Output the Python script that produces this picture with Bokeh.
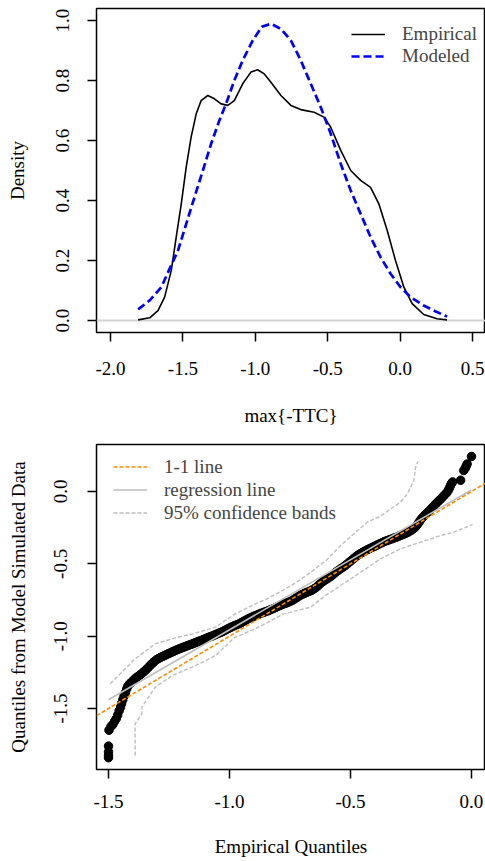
from bokeh.plotting import figure
from bokeh.models import Range1d, FixedTicker, PrintfTickFormatter, Legend, LegendItem
from bokeh.layouts import column
from bokeh.embed import file_html
from bokeh.resources import INLINE

FONT = "Liberation Serif"

# ---------------- top panel data: densities of max{-TTC} ----------------
emp_x = [-1.809, -1.729, -1.672, -1.626, -1.580, -1.546, -1.511, -1.477, -1.443, -1.408,
         -1.374, -1.328, -1.282, -1.236, -1.190, -1.145, -1.087, -1.030, -0.984, -0.938,
         -0.892, -0.823, -0.754, -0.686, -0.594, -0.525, -0.479, -0.410, -0.341, -0.273,
         -0.204, -0.147, -0.089, -0.032, 0.026, 0.083, 0.163, 0.255, 0.324]
emp_y = [0.002, 0.009, 0.033, 0.078, 0.167, 0.278, 0.389, 0.511, 0.611, 0.689,
         0.733, 0.750, 0.739, 0.722, 0.717, 0.733, 0.789, 0.828, 0.836, 0.822,
         0.794, 0.750, 0.717, 0.703, 0.694, 0.678, 0.644, 0.567, 0.500, 0.467,
         0.444, 0.389, 0.300, 0.200, 0.111, 0.056, 0.020, 0.006, 0.002]

mod_x = [-1.809, -1.729, -1.649, -1.592, -1.534, -1.477, -1.420, -1.362, -1.305, -1.248,
         -1.202, -1.145, -1.087, -1.018, -0.955, -0.892, -0.823, -0.754, -0.686, -0.617,
         -0.548, -0.479, -0.410, -0.341, -0.273, -0.204, -0.135, -0.066, 0.003, 0.072,
         0.163, 0.255, 0.324]
mod_y = [0.037, 0.067, 0.111, 0.172, 0.233, 0.322, 0.411, 0.500, 0.589, 0.667,
         0.722, 0.800, 0.867, 0.933, 0.979, 0.989, 0.972, 0.933, 0.867, 0.789,
         0.711, 0.622, 0.522, 0.433, 0.356, 0.278, 0.211, 0.156, 0.111, 0.078,
         0.050, 0.028, 0.013]

top_xticks = [-2.0, -1.5, -1.0, -0.5, 0.0, 0.5]
top_yticks = [0.0, 0.2, 0.4, 0.6, 0.8, 1.0]

# ---------------- bottom panel data: Q-Q plot ----------------
qq_x = [-1.500, -1.500, -1.500, -1.500, -1.498, -1.490, -1.482, -1.475, -1.468, -1.462,
        -1.456, -1.450, -1.446, -1.441, -1.436, -1.430, -1.425, -1.420, -1.413, -1.405,
        -1.397, -1.390, -1.382, -1.375, -1.368, -1.360, -1.352, -1.345, -1.338, -1.331,
        -1.324, -1.317, -1.310, -1.302, -1.294, -1.286, -1.278, -1.270, -1.262, -1.254,
        -1.246, -1.238, -1.230, -1.222, -1.214, -1.206, -1.198, -1.190, -1.182, -1.174,
        -1.166, -1.158, -1.150, -1.142, -1.134, -1.126, -1.118, -1.110, -1.102, -1.094,
        -1.086, -1.078, -1.070, -1.062, -1.054, -1.046, -1.038, -1.030, -1.022, -1.014,
        -1.006, -0.998, -0.990, -0.980, -0.970, -0.960, -0.950, -0.940, -0.930, -0.920,
        -0.910, -0.900, -0.890, -0.880, -0.870, -0.860, -0.850, -0.840, -0.830, -0.820,
        -0.810, -0.800, -0.790, -0.780, -0.770, -0.760, -0.750, -0.740, -0.730, -0.720,
        -0.710, -0.700, -0.690, -0.680, -0.670, -0.660, -0.650, -0.640, -0.630, -0.620,
        -0.610, -0.600, -0.590, -0.580, -0.570, -0.560, -0.550, -0.540, -0.530, -0.520,
        -0.510, -0.500, -0.490, -0.480, -0.470, -0.460, -0.450, -0.440, -0.430, -0.420,
        -0.410, -0.400, -0.390, -0.380, -0.370, -0.360, -0.350, -0.340, -0.330, -0.320,
        -0.310, -0.300, -0.290, -0.280, -0.270, -0.260, -0.250, -0.240, -0.232, -0.225,
        -0.218, -0.212, -0.205, -0.198, -0.190, -0.182, -0.174, -0.166, -0.158, -0.150,
        -0.142, -0.134, -0.126, -0.118, -0.110, -0.102, -0.096, -0.091, -0.087, -0.083,
        -0.078, -0.045, -0.032, -0.026, -0.022, -0.018, 0.000]
qq_y = [-1.840, -1.825, -1.800, -1.760, -1.650, -1.625, -1.610, -1.590, -1.570, -1.545,
        -1.515, -1.490, -1.465, -1.440, -1.415, -1.390, -1.365, -1.345, -1.330, -1.318,
        -1.305, -1.293, -1.283, -1.275, -1.265, -1.255, -1.243, -1.232, -1.220, -1.208,
        -1.196, -1.185, -1.174, -1.163, -1.155, -1.148, -1.141, -1.135, -1.128, -1.122,
        -1.116, -1.110, -1.104, -1.098, -1.092, -1.087, -1.081, -1.076, -1.071, -1.066,
        -1.061, -1.056, -1.051, -1.045, -1.040, -1.035, -1.030, -1.025, -1.019, -1.013,
        -1.008, -1.003, -0.998, -0.992, -0.986, -0.980, -0.975, -0.969, -0.962, -0.955,
        -0.948, -0.941, -0.935, -0.928, -0.921, -0.914, -0.905, -0.896, -0.887, -0.878,
        -0.870, -0.863, -0.856, -0.849, -0.842, -0.836, -0.830, -0.824, -0.817, -0.810,
        -0.802, -0.795, -0.787, -0.780, -0.774, -0.768, -0.761, -0.752, -0.742, -0.731,
        -0.721, -0.712, -0.704, -0.697, -0.690, -0.682, -0.672, -0.660, -0.645, -0.630,
        -0.618, -0.607, -0.597, -0.585, -0.571, -0.557, -0.545, -0.533, -0.522, -0.510,
        -0.496, -0.482, -0.468, -0.454, -0.441, -0.430, -0.420, -0.411, -0.402, -0.394,
        -0.386, -0.378, -0.370, -0.362, -0.354, -0.346, -0.340, -0.334, -0.328, -0.322,
        -0.316, -0.309, -0.302, -0.295, -0.288, -0.280, -0.270, -0.258, -0.246, -0.232,
        -0.216, -0.200, -0.185, -0.172, -0.158, -0.145, -0.132, -0.118, -0.104, -0.090,
        -0.076, -0.063, -0.050, -0.036, -0.022, -0.008, 0.008, 0.024, 0.040, 0.055,
        0.066, 0.078, 0.145, 0.160, 0.175, 0.190, 0.242]

reg_intercept = 0.0115
reg_slope = 0.9675
reg_xlim = [-1.5, 0.0]

upper_x = [-1.493, -1.472, -1.431, -1.390, -1.307, -1.224, -1.141, -1.058, -0.976, -0.893,
           -0.844, -0.776, -0.707, -0.650, -0.596, -0.541, -0.486, -0.431, -0.376, -0.334,
           -0.293, -0.265, -0.238, -0.231, -0.221]
upper_y = [-1.329, -1.295, -1.226, -1.157, -1.053, -1.012, -0.979, -0.938, -0.846, -0.777,
           -0.742, -0.680, -0.610, -0.540, -0.470, -0.373, -0.293, -0.212, -0.171, -0.120,
           -0.074, -0.016, 0.076, 0.168, 0.207]
lower_x = [-1.390, -1.390, -1.362, -1.362, -1.307, -1.238, -1.141, -1.058, -0.980, -0.893,
           -0.776, -0.665, -0.600, -0.541, -0.458, -0.376, -0.293, -0.210, -0.127, -0.072,
           0.004]
lower_y = [-1.825, -1.606, -1.537, -1.491, -1.353, -1.273, -1.204, -1.134, -1.010, -0.949,
           -0.846, -0.800, -0.715, -0.650, -0.558, -0.465, -0.396, -0.350, -0.304, -0.281,
           -0.228]

bot_xticks = [-1.5, -1.0, -0.5, 0.0]
bot_yticks = [-1.5, -1.0, -0.5, 0.0]


def style(p, xticks, yticks):
    p.xgrid.visible = False
    p.ygrid.visible = False
    p.outline_line_color = "black"
    p.outline_line_width = 1.5
    p.background_fill_color = "white"
    p.border_fill_color = "white"
    for ax, ticks in ((p.xaxis[0], xticks), (p.yaxis[0], yticks)):
        ax.ticker = FixedTicker(ticks=ticks)
        ax.formatter = PrintfTickFormatter(format="%.1f")
        ax.axis_line_color = None
        ax.major_tick_line_color = "black"
        ax.major_tick_line_width = 1.5
        ax.major_tick_out = 9
        ax.major_tick_in = 0
        ax.minor_tick_line_color = None
        ax.major_label_text_font = FONT
        ax.major_label_text_font_size = "19px"
        ax.major_label_text_color = "black"
        ax.axis_label_text_font = FONT
        ax.axis_label_text_font_size = "19px"
        ax.axis_label_text_font_style = "normal"
        ax.axis_label_text_color = "black"
    p.yaxis[0].major_label_orientation = "vertical"


# ---------------- top figure ----------------
p1 = figure(width=485, height=430, output_backend="svg", toolbar_location=None,
            x_range=Range1d(-2.0964, 0.5895), y_range=Range1d(-0.04, 1.04),
            min_border_left=95, min_border_right=0, min_border_top=8, min_border_bottom=98)
style(p1, top_xticks, top_yticks)
p1.xaxis[0].axis_label = "max{-TTC}"
p1.yaxis[0].axis_label = "Density"
p1.xaxis[0].major_label_standoff = 20
p1.xaxis[0].axis_label_standoff = 27
p1.yaxis[0].major_label_standoff = 19
p1.yaxis[0].axis_label_standoff = 25

p1.line(x=[-2.0964, 0.5895], y=[0, 0], line_color="#D3D3D3", line_width=2)
r_emp = p1.line(emp_x, emp_y, line_color="black", line_width=1.6)
r_mod = p1.line(mod_x, mod_y, line_color="#0000FF", line_width=2.7, line_dash="8 4")

leg1 = Legend(items=[LegendItem(label="Empirical", renderers=[r_emp]),
                     LegendItem(label="Modeled", renderers=[r_mod])],
              location=(255, 265), padding=0, spacing=0, margin=0,
              glyph_width=34, glyph_height=22, label_height=22, label_standoff=17,
              label_text_font=FONT, label_text_font_size="19px",
              border_line_color=None, background_fill_alpha=0)
p1.add_layout(leg1, "center")

# ---------------- bottom figure ----------------
bx0, bx1 = -1.5496, 0.0579
p2 = figure(width=485, height=431, output_backend="svg", toolbar_location=None,
            x_range=Range1d(bx0, bx1), y_range=Range1d(-1.9216, 0.3248),
            min_border_left=96, min_border_right=0, min_border_top=14, min_border_bottom=92)
style(p2, bot_xticks, bot_yticks)
p2.xaxis[0].axis_label = "Empirical Quantiles"
p2.yaxis[0].axis_label = "Quantiles from Model Simulated Data"
p2.xaxis[0].major_label_standoff = 16
p2.xaxis[0].axis_label_standoff = 25
p2.yaxis[0].major_label_standoff = 20
p2.yaxis[0].axis_label_standoff = 23

p2.scatter(qq_x, qq_y, size=8.5, fill_color="black", line_color="black")
reg_y = [reg_intercept + reg_slope * v for v in reg_xlim]
r_reg = p2.line(reg_xlim, reg_y, line_color="#BEBEBE", line_width=1.6)
r_up = p2.line(upper_x, upper_y, line_color="#BEBEBE", line_width=1.4, line_dash="4 2")
p2.line(lower_x, lower_y, line_color="#BEBEBE", line_width=1.4, line_dash="4 2")
one_x = [bx0, bx1]
r_one = p2.line(one_x, one_x, line_color="#FF8C00", line_width=1.6, line_dash="4 2")

leg2 = Legend(items=[LegendItem(label="1-1 line", renderers=[r_one]),
                     LegendItem(label="regression line", renderers=[r_reg]),
                     LegendItem(label="95% confidence bands", renderers=[r_up])],
              location=(17, 245), padding=0, spacing=0, margin=0,
              glyph_width=34, glyph_height=23, label_height=23, label_standoff=17,
              label_text_font=FONT, label_text_font_size="19px",
              border_line_color=None, background_fill_alpha=0)
p2.add_layout(leg2, "center")

layout = column(p1, p2, spacing=0)
open("out.html", "w").write(file_html(layout, INLINE))
